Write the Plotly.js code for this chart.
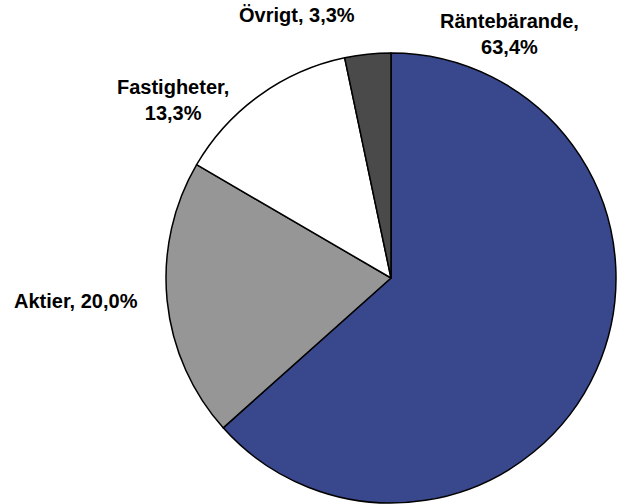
<!DOCTYPE html>
<html>
<head>
<meta charset="utf-8">
<script src="https://cdn.plot.ly/plotly-3.0.1.min.js"></script>
<style>html,body{margin:0;padding:0;background:#fff;}#chart{width:618px;height:504px;}</style>
</head>
<body>
<div id="chart"></div>
<script>
var categories = ["Räntebärande", "Aktier", "Fastigheter", "Övrigt"];
var shares = [63.4, 20.0, 13.3, 3.3];
var sliceColors = ["#39488D", "#969696", "#FFFFFF", "#4A4A4A"];
var labelBreaks = [true, false, true, false];

function fmt(v) { return v.toFixed(1).replace('.', ',') + '%'; }

// label placement in pixels (centre of text block)
var labelPos = [[509, 34], [76, 301], [173, 100], [297, 15]];

var W = 618, H = 504;
var annotations = categories.map(function (c, i) {
  return {
    xref: 'paper', yref: 'paper',
    x: labelPos[i][0] / W, y: 1 - labelPos[i][1] / H,
    xanchor: 'center', yanchor: 'middle',
    text: '<b>' + c + ',' + (labelBreaks[i] ? '</b><br><b>' : ' ') + fmt(shares[i]) + '</b>',
    showarrow: false,
    align: 'center',
    font: {family: 'Liberation Sans, Arial, sans-serif', size: 20, color: '#000', weight: 'bold'}
  };
});

var trace = {
  type: 'pie',
  labels: categories,
  values: shares,
  sort: false,
  direction: 'clockwise',
  rotation: 0,
  textinfo: 'none',
  hoverinfo: 'none',
  marker: {colors: sliceColors, line: {color: '#000', width: 1.5}},
  domain: {x: [164 / W, 1], y: [1 / H, 451 / H]},
  showlegend: false
};

var layout = {
  width: W, height: H,
  margin: {l: 0, r: 0, t: 0, b: 0},
  paper_bgcolor: '#fff',
  showlegend: false,
  annotations: annotations
};

Plotly.newPlot('chart', [trace], layout, {displayModeBar: false, staticPlot: true});
</script>
</body>
</html>
